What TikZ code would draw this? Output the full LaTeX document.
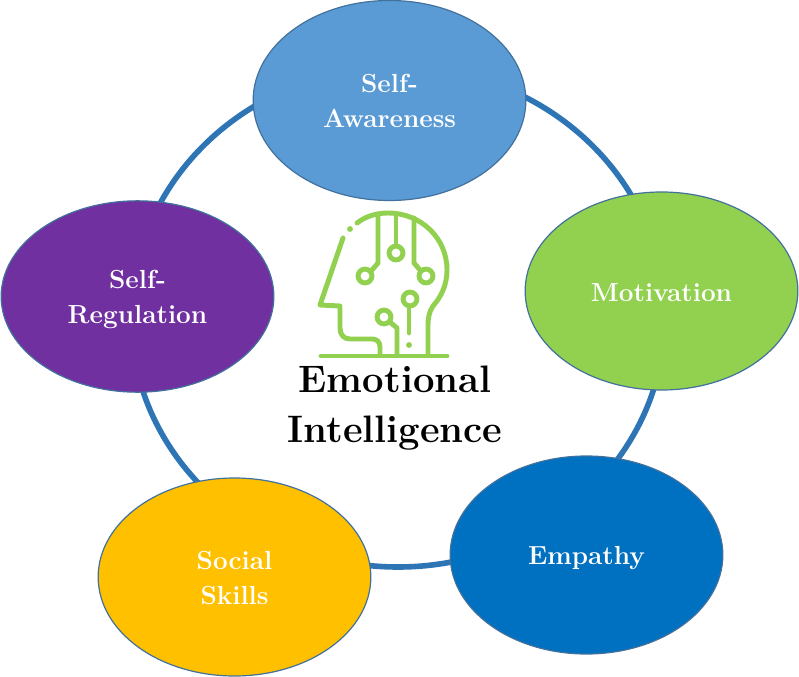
\documentclass[tikz,border=0pt]{standalone}
\usetikzlibrary{shapes.geometric}
\definecolor{ringblue}{HTML}{2E75B6}
\definecolor{edgeblue}{HTML}{41719C}
\definecolor{headgreen}{HTML}{92D050}
\definecolor{awarefill}{HTML}{5B9BD5}
\definecolor{empathyfill}{HTML}{0070C0}
\definecolor{socialfill}{HTML}{FFC000}
\definecolor{regulfill}{HTML}{7030A0}
\newcommand{\lowered}[2]{\raisebox{-#1pt}[\height][\depth]{#2}}
\tikzset{
  topic/.style={draw=edgeblue, line width=0.9pt, ellipse, inner sep=0pt, minimum width=204.5pt, minimum height=148.5pt, text=white, align=center, font=\bfseries\fontsize{19.6}{26.2}\selectfont},
  ring/.style={draw=ringblue, line width=4.2pt},
  headline/.style={draw=headgreen, line width=3.7pt, line cap=round, line join=round},
}
\begin{document}
\begin{tikzpicture}[x=0.75pt, y=-0.75pt]
\useasboundingbox (0,0) rectangle (799,677);
\fill[white] (0,0) rectangle (799,677);
\draw[ring] (398,317) ellipse [x radius=267, y radius=250];

% the five topics
\node[topic, fill=awarefill, minimum height=150pt] (aware) at (389.5,100.5) {Self-\\Awareness};
\node[topic, fill=headgreen] (motiv) at (661.5,291) {\lowered{1}{Motivation}};
\node[topic, fill=empathyfill] (empathy) at (586.5,555) {\lowered{2}{Empathy}};
\node[topic, fill=socialfill] (social) at (234.5,577) {\lowered{1}{Social}\\\lowered{1}{Skills}};
\node[topic, fill=regulfill, minimum height=143.5pt] (regul) at (137.5,296.5) {\lowered{2}{Self-}\\\lowered{2.5}{Regulation}};

% head
\draw[headline] (321,356) -- (447,356);
\draw[headline] (343,238) -- (320,305) -- (340,306) -- (340,328) .. controls (340,335) and (344,339) .. (350,339) -- (372,339) .. controls (377,339) and (380,342) .. (380,347) -- (380,355);
\draw[headline] (357,223) .. controls (366,216) and (377,213) .. (388,213) .. controls (421,213) and (447,238) .. (447,270) .. controls (447,285) and (441,297) .. (433,306) .. controls (429,312) and (428,318) .. (428,326) -- (428,355);
\fill[headgreen] (350,229) circle (2.2pt);
\draw[headline] (378,215) -- (378,263) -- (372,270);
\draw[headline] (396,215) -- (396,244);
\draw[headline] (414,218) -- (414,263) -- (420,270);
\draw[headline] (365,276) circle (5.2pt);
\draw[headline] (396,253) circle (5.2pt);
\draw[headline] (426,276) circle (5.2pt);
\draw[headline] (410,299) circle (5.2pt);
\draw[headline] (384,317) circle (5.2pt);
\draw[headline] (409,307) -- (409,333);
\fill[headgreen] (409,345) circle (2.2pt);
\draw[headline] (391,323) -- (397,328) -- (397,355);

\node[font=\bfseries\fontsize{28.7}{37.8}\selectfont, align=center, inner sep=0pt] (title) at (395,408) {Emotional\\Intelligence};
\end{tikzpicture}
\end{document}
